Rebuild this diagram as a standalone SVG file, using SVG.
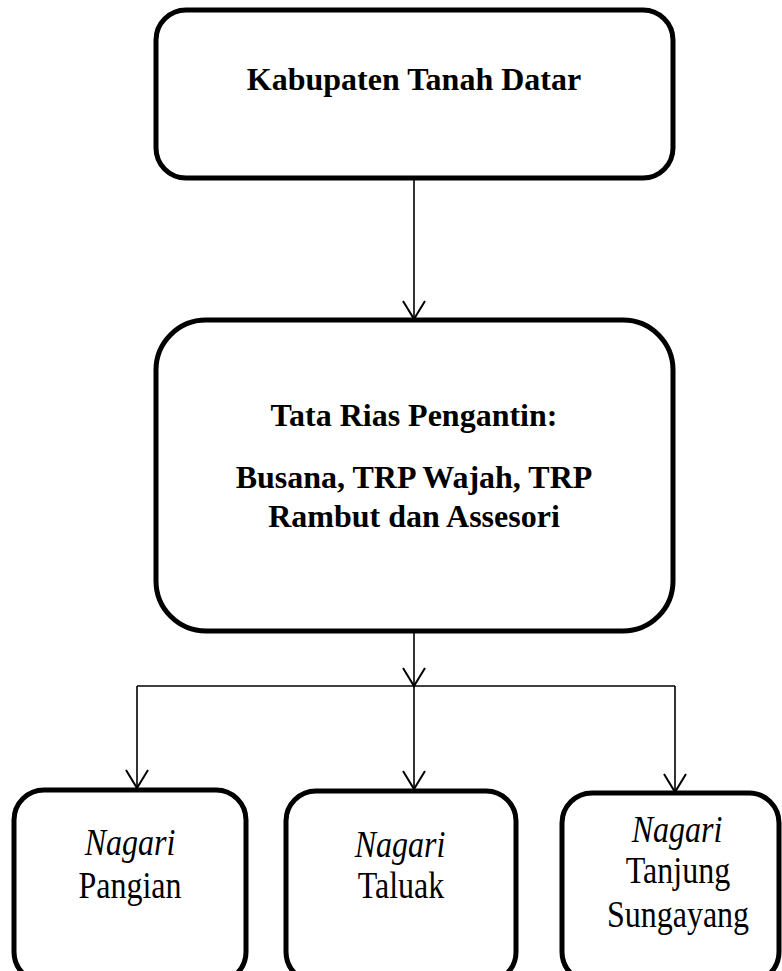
<svg xmlns="http://www.w3.org/2000/svg" width="782" height="971" viewBox="0 0 782 971">
<style>
.box{fill:#fff;stroke:#000;stroke-width:5}
.conn{fill:none;stroke:#000;stroke-width:1.6}
.b{font-family:"Liberation Serif","Times New Roman",serif;font-weight:bold;font-size:32px;fill:#000;text-anchor:middle}
.r{font-family:"Liberation Serif","Times New Roman",serif;font-size:32px;fill:#000;text-anchor:middle}
.i{font-style:italic}
</style>
<defs>
<marker id="arr" viewBox="-20 -13 22 26" refX="0" refY="0" markerWidth="22" markerHeight="26" markerUnits="userSpaceOnUse" orient="auto">
<path d="M-18,-11 L0,0 L-18,11" fill="none" stroke="#000" stroke-width="2"/>
</marker>
</defs>
<rect width="782" height="971" fill="#fff"/>
<g id="connectors">
<line class="conn" x1="414" y1="180" x2="414" y2="319" marker-end="url(#arr)"/>
<line class="conn" x1="414" y1="631" x2="414" y2="686" marker-end="url(#arr)"/>
<line class="conn" x1="137" y1="686" x2="675" y2="686"/>
<line class="conn" x1="137" y1="686" x2="137" y2="788" marker-end="url(#arr)"/>
<line class="conn" x1="414" y1="686" x2="414" y2="789" marker-end="url(#arr)"/>
<line class="conn" x1="675" y1="686" x2="675" y2="792" marker-end="url(#arr)"/>
</g>
<g id="node-kabupaten">
<rect class="box" x="156" y="10" width="517" height="168" rx="30"/>
<text class="b" x="414" y="90">Kabupaten Tanah Datar</text>
</g>
<g id="node-tata-rias">
<rect class="box" x="156" y="320" width="517" height="311" rx="50"/>
<text class="b" x="414" y="426">Tata Rias Pengantin:</text>
<text class="b" x="414" y="488">Busana, TRP Wajah, TRP</text>
<text class="b" x="414" y="527">Rambut dan Assesori</text>
</g>
<g id="node-pangian">
<rect class="box" x="14" y="790" width="232" height="192" rx="30"/>
<text class="r i" transform="translate(130,855) scale(1,1.17)">Nagari</text>
<text class="r" transform="translate(130,898) scale(1,1.17)">Pangian</text>
</g>
<g id="node-taluak">
<rect class="box" x="286" y="791" width="230" height="191" rx="30"/>
<text class="r i" transform="translate(400,857) scale(1,1.17)">Nagari</text>
<text class="r" transform="translate(401,898) scale(1,1.17)">Taluak</text>
</g>
<g id="node-tanjung">
<rect class="box" x="562" y="793" width="217" height="189" rx="30"/>
<text class="r i" transform="translate(677,842) scale(1,1.17)">Nagari</text>
<text class="r" transform="translate(678,883) scale(1,1.17)">Tanjung</text>
<text class="r" transform="translate(678,927) scale(1,1.17)">Sungayang</text>
</g>
</svg>
